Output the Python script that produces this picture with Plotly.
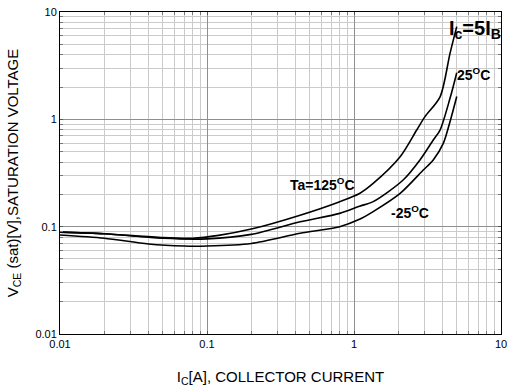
import plotly.graph_objects as go

# Collector current [A]
ic_125 = [0.01, 0.02, 0.05, 0.08, 0.12, 0.2, 0.43, 0.8, 1.09, 1.35, 2.06, 2.67, 3.04, 3.85, 4.5, 5.0]
vce_125 = [0.089, 0.086, 0.079, 0.078, 0.083, 0.095, 0.128, 0.171, 0.204, 0.253, 0.448, 0.795, 1.06, 1.62, 4.12, 7.3]

ic_25 = [0.01, 0.02, 0.05, 0.1, 0.2, 0.43, 0.8, 1.09, 1.35, 2.16, 2.81, 3.46, 3.85, 4.5, 5.0]
vce_25 = [0.089, 0.086, 0.078, 0.077, 0.0848, 0.111, 0.133, 0.155, 0.171, 0.272, 0.418, 0.641, 0.795, 1.57, 2.72]

ic_m25 = [0.01, 0.02, 0.04, 0.07, 0.1, 0.2, 0.43, 0.8, 1.09, 1.35, 2.06, 2.96, 3.46, 4.05, 4.5, 5.0]
vce_m25 = [0.0836, 0.078, 0.069, 0.066, 0.066, 0.0698, 0.0867, 0.1, 0.117, 0.138, 0.204, 0.337, 0.418, 0.597, 0.95, 1.63]

x_ticks = [0.01, 0.1, 1, 10]
x_tick_text = ["0.01", "0.1", "1", "10"]
y_ticks = [0.01, 0.1, 1, 10]
y_tick_text = ["0.01", "0.1", "1", "10"]
minor_vals = [m * 10 ** e for e in (-2, -1, 0) for m in range(2, 10)]

FONT = "Liberation Sans, Arial, sans-serif"

fig = go.Figure()
for xs, ys in [(ic_125, vce_125), (ic_25, vce_25), (ic_m25, vce_m25)]:
    fig.add_trace(go.Scatter(x=xs, y=ys, mode="lines",
                             line=dict(color="black", width=1.6, shape="spline", smoothing=0.8),
                             showlegend=False, hoverinfo="skip", cliponaxis=False))

axis_common = dict(
    type="log",
    tickmode="array",
    automargin=False,
    ticklabeloverflow="allow",
    showline=True, linecolor="black", linewidth=1, mirror="ticks",
    ticks="inside", ticklen=3, tickcolor="#555",
    showgrid=True, gridcolor="#8f8f8f", gridwidth=1,
    zeroline=False,
    tickfont=dict(family=FONT, size=11, color="black"),
    minor=dict(tickmode="array", tickvals=minor_vals, ticks="inside", ticklen=3,
               tickcolor="#777", showgrid=True, gridcolor="#cbcbcb", gridwidth=1),
)

fig.update_xaxes(**axis_common, range=[-2, 1], tickvals=x_ticks, ticktext=x_tick_text,
                 title=dict(text="I<sub>C</sub>[A], COLLECTOR CURRENT",
                            font=dict(family=FONT, size=15, color="black"), standoff=22))
fig.update_yaxes(**axis_common, range=[-2, 1], tickvals=y_ticks, ticktext=y_tick_text,
                 title=dict(text="V<sub>CE</sub> (sat)[V],SATURATION VOLTAGE",
                            font=dict(family=FONT, size=15, color="black"), standoff=13))

ann_font = dict(family=FONT, size=14, color="black")
fig.add_annotation(x=-0.211, y=-0.60, xref="x", yref="y", text="<b>Ta=125<sup>O</sup>C</b>",
                   showarrow=False, font=ann_font)
fig.add_annotation(x=0.381, y=-0.864, xref="x", yref="y", text="<b>-25<sup>O</sup>C</b>",
                   showarrow=False, font=ann_font)
fig.add_annotation(x=0.81, y=0.422, xref="x", yref="y", text="<b>25<sup>O</sup>C</b>",
                   showarrow=False, font=ann_font)
fig.add_annotation(x=1.0, y=0.955, xref="paper", yref="paper", xanchor="right", xshift=2, yshift=11,
                   text="<b>I<sub>c</sub>=5I<sub>B</sub></b>",
                   showarrow=False, font=dict(family=FONT, size=20, color="black"))

fig.update_layout(
    width=508, height=390,
    margin=dict(l=60, r=7, t=12, b=56),
    paper_bgcolor="white", plot_bgcolor="white",
    font=dict(family=FONT, color="black"),
    hovermode=False,
)

# remove the default 8px page margin so the figure fills the window exactly
fig.write_html("out.html", config={"displayModeBar": False},
               post_script="document.body.style.margin='0px';")
